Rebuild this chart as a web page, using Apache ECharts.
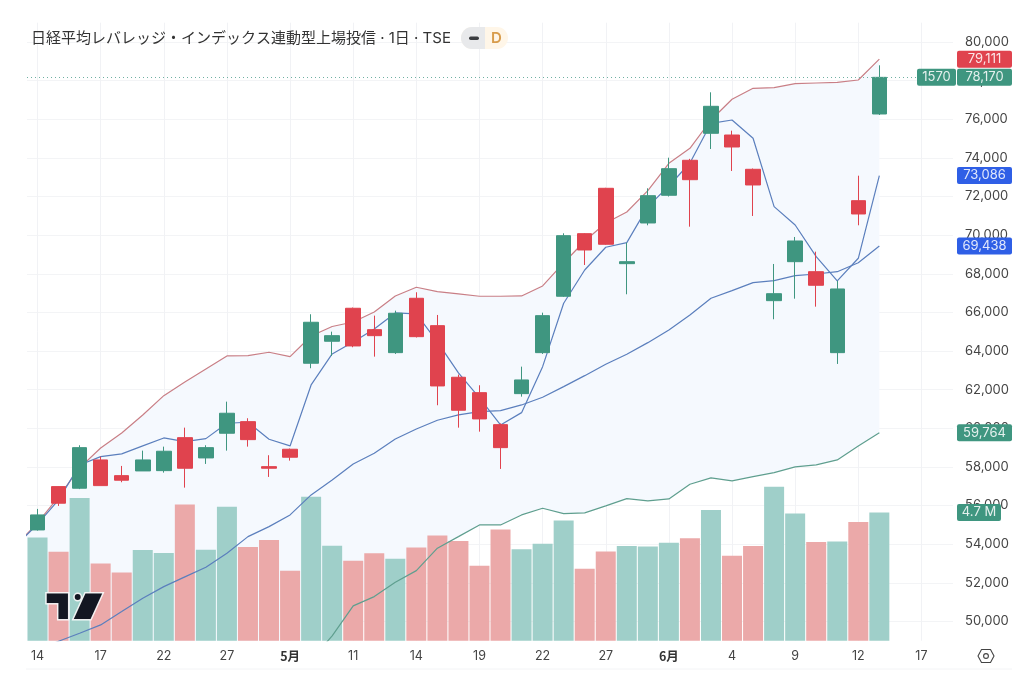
<!DOCTYPE html>
<html lang="ja">
<head>
<meta charset="utf-8">
<title>日経平均レバレッジ・インデックス連動型上場投信</title>
<style>
html,body{margin:0;padding:0;background:#fff}
#chart{width:1024px;height:677px}
</style>
<script src="https://cdn.jsdelivr.net/npm/echarts@6/dist/echarts.min.js"></script>
</head>
<body>
<div id="chart"></div>
<script>
// Trading days; the first entry is the session just left of the visible range,
// the last three are empty sessions to the right of the latest bar.
const days = ['13','14','15','16','17','20','21','22','23','24','27','28','30','5月','7','8','11','12','13','14','15','18','19','20','21','22','25','26','27','28','29','6月','2','3','4','5','8','9','10','11','12','15','16','17','18'];

const opens  = [54736,56978,56895,58360,57547,57791,57806,59514,58464,59742,60343,58013,58914,63366,64505,66214,65106,63915,66731,65313,62641,61844,60188,61793,63915,66835,70076,72426,68523,70630,72064,73876,75273,75185,73410,66607,68626,68108,63915,71784,76273];
const closes = [55513,56119,58997,57030,57309,58360,58810,57930,58997,60778,59411,57930,58500,65489,64795,64262,64795,65955,64743,62191,60933,60483,58997,62502,65831,69972,69232,69527,68626,72043,73441,72871,76671,74564,72597,66969,69698,67404,67213,71096,78170];
const lows   = [54700,55978,56850,57030,57205,57791,57703,56926,58153,58842,59049,57480,58324,63108,63744,64195,63708,63848,64700,61192,60032,59825,57894,61637,63848,66800,68455,69500,66938,70511,72000,70438,74461,73322,70992,65644,66710,66296,63330,70511,76220];
const highs  = [55824,56990,59120,58530,58050,58842,59049,60032,59120,61378,60519,58604,58950,65903,65002,66250,65831,66089,67042,65867,62780,62227,60250,63190,65986,70096,70100,72450,69610,72426,74010,73950,77396,75408,73450,68507,69905,69144,67627,73078,78794];

// Volume in millions of shares
const volumes = [3.78,3.26,5.23,2.83,2.50,3.32,3.21,4.99,3.33,4.91,3.43,3.69,2.56,5.27,3.48,2.93,3.20,3.00,3.41,3.85,3.65,2.75,4.07,3.35,3.55,4.40,2.64,3.27,3.47,3.45,3.59,3.75,4.79,3.11,3.47,5.64,4.66,3.62,3.63,4.35,4.70];

// Indicator lines, including the session before the first visible bar
const upperBand = [53959,55099,56445,57946,58981,59758,60690,61689,62398,63071,63744,63760,63936,63708,64780,65271,65504,66022,66850,67301,67073,66954,66835,66835,66850,67368,68559,69698,70630,71199,72302,73720,74497,75962,77034,77603,77634,77841,77877,77914,78033,79111];
const fastLine  = [53959,55031,56289,58101,58531,58671,59085,59499,59308,59463,60260,60312,59432,59085,62243,63848,64469,65142,65970,65919,64469,62864,61570,60172,60809,63190,66472,68196,69372,69610,71474,72545,73736,75791,75962,75015,71474,70526,68885,67627,68802,73086];
const midLine   = [48110,48524,48969,49388,49818,50507,51200,51801,52303,52805,53530,54389,54907,55513,56548,57325,58153,58707,59447,59965,60415,60690,60861,60912,61207,61606,62155,62724,63314,63832,64433,65090,65867,66731,67125,67539,67642,67901,67989,68108,68574,69438];
const lowerBand = [39100,39700,40300,40700,41300,41800,42400,43000,43600,44200,45000,45700,46500,47200,48006,49249,50802,51283,52029,52629,53789,54389,54995,54995,55513,55860,55580,55616,55979,56357,56238,56341,57102,57428,57273,57496,57703,57998,58101,58360,59085,59764];

const yTicks = [50000,52000,54000,56000,58000,60000,62000,64000,66000,68000,70000,72000,74000,76000,78000,80000];

const lastPrice = 78170;
const priceTags = [
  {value:79111, text:'79,111', color:'#e0434e'},
  {value:78170, text:'78,170', color:'#3f9680'},
  {value:73086, text:'73,086', color:'#2f5fe6'},
  {value:69438, text:'69,438', color:'#2f5fe6'},
  {value:59764, text:'59,764', color:'#3f9680'}
];
const countdownTag = '1570';
const volumeTag = {value:4.7, text:'4.7 M', color:'#3f9680'};

const UP = '#3f9680', DOWN = '#e0434e';
const UP_VOL = '#9fcfc9', DOWN_VOL = '#eba9a9';
const FONT = 'Inter, "Noto Sans", sans-serif';
const everyThird = i => i % 3 === 1;

const candleData = [['-','-','-','-']].concat(opens.map((o, i) => [o, closes[i], lows[i], highs[i]]));
const volumeData = [{value: '-'}].concat(volumes.map((v, i) => ({
  value: v,
  itemStyle: {color: closes[i] >= opens[i] ? UP_VOL : DOWN_VOL}
})));
const bandWidth = upperBand.map((u, i) => u - lowerBand[i]);

const chart = echarts.init(document.getElementById('chart'), null, {renderer: 'canvas'});

const line = (name, data, color, z) => ({
  name, type: 'line', data, z, showSymbol: false, silent: true, smooth: false,
  lineStyle: {color, width: 1.2}, itemStyle: {color}
});

chart.setOption({
  animation: false,
  backgroundColor: '#fff',
  grid: {left: 27, width: 926, top: 22.7, height: 618},
  xAxis: {
    type: 'category',
    data: days,
    min: 1,
    axisLine: {show: false},
    axisTick: {show: false},
    axisLabel: {
      interval: everyThird,
      margin: 9,
      fontFamily: FONT,
      fontSize: 12.5,
      color: '#444',
      formatter: v => v.endsWith('月') ? '{m|' + v + '}' : v,
      rich: {m: {fontFamily: '"Noto Sans CJK JP", sans-serif', fontWeight: 700, fontSize: 12.5, color: '#333'}}
    },
    splitLine: {show: true, alignWithLabel: true, interval: everyThird, lineStyle: {color: '#f1f2f5', width: 1}}
  },
  yAxis: [
    {
      type: 'value',
      position: 'right',
      min: 49000,
      max: 81000,
      axisLine: {show: false},
      axisTick: {show: false, customValues: yTicks},
      axisLabel: {
        customValues: yTicks,
        margin: 12,
        fontFamily: FONT,
        fontSize: 13,
        color: '#444',
        formatter: v => v.toLocaleString('en-US')
      },
      splitLine: {show: true, lineStyle: {color: '#f3f4f6', width: 1}}
    },
    {
      type: 'value',
      min: 0,
      max: 22.64,
      show: false
    }
  ],
  series: [
    {
      name: '下限', type: 'line', data: lowerBand, stack: 'band', z: 3,
      showSymbol: false, silent: true,
      lineStyle: {color: '#5f9f8f', width: 1.2}
    },
    {
      name: 'バンド', type: 'line', data: bandWidth, stack: 'band', z: 1,
      showSymbol: false, silent: true,
      lineStyle: {opacity: 0, width: 0},
      areaStyle: {color: '#f5f9fe', opacity: 1}
    },
    {
      name: '出来高', type: 'bar', yAxisIndex: 1, data: volumeData, z: 2,
      barWidth: 20, silent: true
    },
    line('上限', upperBand, '#c97f86', 3),
    line('中央', midLine, '#5b7fbd', 3),
    line('短期', fastLine, '#5b7fbd', 3),
    {
      name: '価格', type: 'candlestick', data: candleData, z: 4, barWidth: 15,
      silent: true,
      itemStyle: {color: UP, color0: DOWN, borderColor: UP, borderColor0: DOWN, borderWidth: 1},
      markLine: {
        silent: true, symbol: 'none', animation: false,
        label: {show: false},
        lineStyle: {color: '#6fb0a2', type: [1, 3], width: 1},
        data: [{yAxis: lastPrice}]
      }
    }
  ]
});

// Price tags sit on the value scale, over the right-hand tick labels.
const yPixel = (axis, v) => chart.convertToPixel({yAxisIndex: axis}, v);

const badge = (x, cy, w, text, color, textX) => [
  {type: 'rect', z: 50, shape: {x, y: cy - 8.5, width: w, height: 17, r: 2}, style: {fill: color}},
  {type: 'text', z: 51, style: {
    x: textX, y: cy, text, fill: 'rgba(255,255,255,0.86)',
    font: '13px ' + FONT, textAlign: 'center', textVerticalAlign: 'middle'
  }}
];

const tags = priceTags.flatMap(t => badge(957, yPixel(0, t.value), 55, t.text, t.color, 984.5))
  .concat(badge(917, yPixel(0, lastPrice), 39, countdownTag, UP, 936.5))
  .concat(badge(957, yPixel(1, volumeTag.value), 44, volumeTag.text, volumeTag.color, 979));

const logoStyle = {fill: '#131722', stroke: 'rgba(255,255,255,0.9)', lineWidth: 1.5};

chart.setOption({
  graphic: {
    elements: [
      {type: 'line', z: 5, shape: {x1: 26, y1: 669, x2: 1012, y2: 669}, style: {stroke: '#f3f4f6', lineWidth: 1}},
      // Heading
      {type: 'text', z: 50, style: {
        x: 31, y: 38,
        text: '日経平均レバレッジ・インデックス連動型上場投信 · 1日 · TSE',
        fill: '#333', font: '15px Inter, "Noto Sans CJK JP", sans-serif', textVerticalAlign: 'middle'
      }},
      // Status pill
      {type: 'rect', z: 50, shape: {x: 461, y: 27, width: 47, height: 22, r: 11}, style: {fill: '#fff6e8'}},
      {type: 'rect', z: 51, shape: {x: 461, y: 27, width: 24, height: 22, r: [11, 0, 0, 11]}, style: {fill: '#e8e9eb'}},
      {type: 'rect', z: 52, shape: {x: 469, y: 36.5, width: 10, height: 3.5, r: 1.7}, style: {fill: '#3a3c40'}},
      {type: 'text', z: 52, style: {
        x: 496.5, y: 38, text: 'D', fill: '#d89c4c',
        font: '600 15px ' + FONT, textAlign: 'center', textVerticalAlign: 'middle'
      }},
      // Watermark logo
      {type: 'polygon', z: 60, shape: {points: [[46,592.7],[68.7,592.7],[68.7,619.7],[57.7,619.7],[57.7,603.7],[46,603.7]]}, style: logoStyle},
      {type: 'circle', z: 60, shape: {cx: 77.7, cy: 597, r: 3.7}, style: logoStyle},
      {type: 'polygon', z: 60, shape: {points: [[85,592.7],[103.3,592.7],[91,619.7],[72.7,619.7]]}, style: logoStyle},
      // Settings glyph
      {type: 'polygon', z: 50, shape: {points: [[981.5,649.5],[990.5,649.5],[994,656],[990.5,662.5],[981.5,662.5],[978,656]]},
        style: {fill: 'none', stroke: '#444', lineWidth: 1.1, lineJoin: 'round'}},
      {type: 'circle', z: 50, shape: {cx: 986, cy: 656, r: 2.4}, style: {fill: 'none', stroke: '#444', lineWidth: 1.1}}
    ].concat(tags)
  }
});
</script>
</body>
</html>
